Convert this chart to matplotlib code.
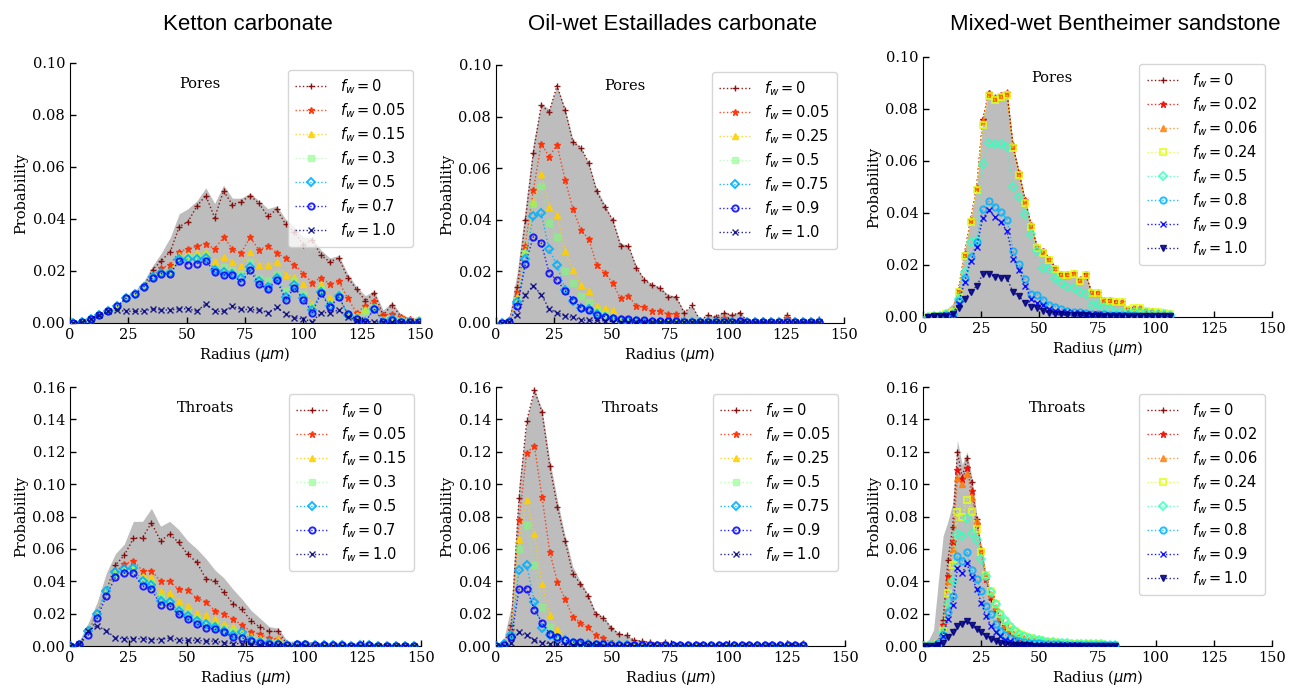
import matplotlib
matplotlib.use("Agg")
import matplotlib.pyplot as plt
from matplotlib.ticker import FormatStrFormatter, MultipleLocator

# ---------------- data ----------------
col_titles = ["Ketton carbonate", "Oil-wet Estaillades carbonate", "Mixed-wet Bentheimer sandstone"]
row_names = ["Pores", "Throats"]

fw_ketton = ["0", "0.05", "0.15", "0.3", "0.5", "0.7", "1.0"]
fw_estaillades = ["0", "0.05", "0.25", "0.5", "0.75", "0.9", "1.0"]
fw_bentheimer = ["0", "0.02", "0.06", "0.24", "0.5", "0.8", "0.9", "1.0"]

# Ketton pores
kp_r = [1.2, 5.0, 8.8, 12.6, 16.4, 20.2, 24.0, 27.8, 31.6, 35.4, 39.2, 43.0, 46.8, 50.6, 54.4, 58.2, 62.0, 65.8,
        69.6, 73.4, 77.2, 81.0, 84.8, 88.6, 92.4, 96.2, 100.0, 103.8, 107.6, 111.4, 115.2, 119.0, 122.8, 126.6,
        130.4, 134.2, 138.0, 141.8, 145.6, 149.4]
kp_env = [0.0005, 0.001, 0.002, 0.0035, 0.005, 0.007, 0.0105, 0.0125, 0.016, 0.022, 0.027, 0.033, 0.042, 0.044,
          0.047, 0.052, 0.046, 0.053, 0.048, 0.048, 0.050, 0.047, 0.044, 0.045, 0.040, 0.037, 0.033, 0.033, 0.028,
          0.025, 0.026, 0.019, 0.014, 0.0105, 0.0125, 0.005, 0.008, 0.0035, 0.002, 0.002]
kp_0 = [0.0, 0.0005, 0.0015, 0.003, 0.0045, 0.006, 0.0095, 0.011, 0.014, 0.0205, 0.024, 0.0275, 0.037, 0.039,
        0.045, 0.049, 0.0405, 0.0508, 0.0455, 0.0467, 0.049, 0.046, 0.041, 0.0437, 0.038, 0.035, 0.030, 0.032,
        0.026, 0.0235, 0.025, 0.0175, 0.013, 0.0085, 0.0115, 0.003, 0.007, 0.0025, 0.0015, 0.001]
kp_005 = [0.0, 0.0005, 0.0015, 0.003, 0.0045, 0.0062, 0.0095, 0.011, 0.014, 0.018, 0.021, 0.0225, 0.0275, 0.0285,
          0.0295, 0.0305, 0.0285, 0.033, 0.0285, 0.027, 0.033, 0.028, 0.0298, 0.027, 0.025, 0.0225, 0.019, 0.0155,
          0.0175, 0.015, 0.016, 0.0095, 0.004, 0.0065, 0.0085, 0.003, 0.0035, 0.0025, 0.0015, 0.001]
kp_015 = [0.0, 0.0005, 0.0015, 0.003, 0.0045, 0.0062, 0.0095, 0.011, 0.014, 0.018, 0.0195, 0.020, 0.026, 0.026,
          0.027, 0.0275, 0.024, 0.0255, 0.0235, 0.022, 0.0275, 0.0222, 0.0222, 0.0235, 0.0185, 0.0178, 0.015, 0.0073,
          0.015, 0.0095, 0.0105, 0.0035, 0.003, 0.0055, 0.006, 0.0015, 0.002, 0.0015, 0.001, 0.0015]
kp_03 = [0.0, 0.0005, 0.0015, 0.003, 0.0045, 0.0062, 0.0095, 0.011, 0.014, 0.0178, 0.0193, 0.0195, 0.025, 0.0255,
         0.0255, 0.026, 0.021, 0.0215, 0.0205, 0.019, 0.0235, 0.0175, 0.0165, 0.019, 0.0125, 0.016, 0.011, 0.006,
         0.013, 0.0075, 0.011, 0.003, 0.002, 0.0045, 0.006, 0.001, 0.0015, 0.001, 0.0005, 0.001]
kp_05 = [0.0, 0.0004, 0.0015, 0.003, 0.0045, 0.0065, 0.0095, 0.011, 0.014, 0.0176, 0.0192, 0.0192, 0.0245, 0.0245,
         0.0245, 0.025, 0.0205, 0.0195, 0.019, 0.0175, 0.0215, 0.016, 0.014, 0.0175, 0.010, 0.0145, 0.0095, 0.005,
         0.012, 0.0065, 0.0105, 0.003, 0.0015, 0.0005, 0.0055, 0.0005, 0.0015, 0.0005, 0.0003, 0.0005]
kp_07 = [0.0, 0.0003, 0.0015, 0.003, 0.0045, 0.0065, 0.0095, 0.011, 0.014, 0.0175, 0.019, 0.019, 0.024, 0.0225,
         0.0228, 0.024, 0.0195, 0.0185, 0.0185, 0.0158, 0.0202, 0.015, 0.013, 0.0165, 0.009, 0.0135, 0.009, 0.004,
         0.0115, 0.006, 0.010, 0.0035, 0.0015, 0.0005, 0.0055, 0.0005, 0.0012, 0.0005, 0.0003, 0.0003]
kp_10 = [0.0, 0.0003, 0.0015, 0.003, 0.0045, 0.005, 0.0045, 0.0045, 0.0045, 0.0055, 0.005, 0.005, 0.0055, 0.0055,
         0.0045, 0.0075, 0.0045, 0.0045, 0.0065, 0.0052, 0.0052, 0.005, 0.004, 0.006, 0.0035, 0.002, 0.0015, 0.0005,
         0.004, 0.004, 0.005, 0.0025, 0.001, 0.0005, 0.0005, 0.0003, 0.0003, 0.0002, 0.0002, 0.0002]

# Ketton throats
kt_r = [0.0, 3.9, 7.7, 11.6, 15.5, 19.4, 23.2, 27.1, 31.0, 34.8, 38.7, 42.6, 46.4, 50.3, 54.2, 58.1, 61.9, 65.8,
        69.7, 73.5, 77.4, 81.3, 85.1, 89.0, 92.9, 96.8, 100.6, 104.5, 108.4, 112.2, 116.1, 120.0, 123.8, 127.7,
        131.6, 135.5, 139.3, 143.2, 147.1]
kt_env = [0.0005, 0.003, 0.014, 0.027, 0.045, 0.057, 0.063, 0.077, 0.077, 0.085, 0.074, 0.077, 0.072, 0.065, 0.060,
          0.054, 0.047, 0.042, 0.035, 0.029, 0.022, 0.017, 0.012, 0.011, 0.003, 0.003, 0.0028, 0.0025, 0.002, 0.002,
          0.0018, 0.0015, 0.0015, 0.002, 0.0012, 0.001, 0.001, 0.001, 0.001]
kt_0 = [0.0, 0.0005, 0.009, 0.02, 0.034, 0.050, 0.056, 0.0665, 0.067, 0.076, 0.065, 0.069, 0.064, 0.0566, 0.0517,
        0.0414, 0.0404, 0.0332, 0.026, 0.0227, 0.0154, 0.0115, 0.009, 0.009, 0.0007, 0.002, 0.002, 0.0015, 0.0015,
        0.001, 0.001, 0.0008, 0.001, 0.0015, 0.0005, 0.0005, 0.0005, 0.0005, 0.0005]
kt_005 = [0.0, 0.0005, 0.009, 0.02, 0.034, 0.046, 0.0505, 0.0525, 0.0465, 0.0465, 0.040, 0.040, 0.035, 0.0346,
          0.0295, 0.0274, 0.0218, 0.0198, 0.0165, 0.013, 0.0089, 0.0072, 0.0047, 0.0041, 0.0005, 0.0015, 0.0015,
          0.001, 0.001, 0.0008, 0.0008, 0.0005, 0.0008, 0.0012, 0.0004, 0.0004, 0.0004, 0.0004, 0.0004]
kt_015 = [0.0, 0.0005, 0.009, 0.02, 0.034, 0.046, 0.047, 0.048, 0.043, 0.0425, 0.034, 0.033, 0.0275, 0.025, 0.0205,
          0.019, 0.0165, 0.0135, 0.012, 0.0085, 0.006, 0.005, 0.003, 0.0045, 0.0005, 0.0012, 0.0012, 0.001, 0.0008,
          0.0006, 0.0006, 0.0004, 0.0006, 0.001, 0.0003, 0.0003, 0.0003, 0.0003, 0.0003]
kt_03 = [0.0, 0.0005, 0.009, 0.02, 0.034, 0.045, 0.047, 0.048, 0.041, 0.039, 0.030, 0.028, 0.023, 0.021, 0.017,
         0.015, 0.013, 0.011, 0.009, 0.007, 0.004, 0.003, 0.002, 0.002, 0.0004, 0.001, 0.001, 0.0008, 0.0006, 0.0005,
         0.0005, 0.0003, 0.0005, 0.0008, 0.0003, 0.0003, 0.0003, 0.0003, 0.0003]
kt_05 = [0.0, 0.0008, 0.009, 0.020, 0.034, 0.046, 0.0475, 0.048, 0.040, 0.0375, 0.028, 0.027, 0.0215, 0.0185, 0.0155,
         0.0135, 0.012, 0.0095, 0.007, 0.0085, 0.004, 0.0025, 0.002, 0.0015, 0.0004, 0.0008, 0.0008, 0.0006, 0.0005,
         0.0004, 0.0004, 0.0003, 0.0004, 0.0006, 0.0002, 0.0002, 0.0002, 0.0002, 0.0002]
kt_07 = [0.0, 0.001, 0.0065, 0.017, 0.031, 0.0425, 0.045, 0.045, 0.037, 0.035, 0.0255, 0.025, 0.0195, 0.0165, 0.0135,
         0.011, 0.0105, 0.0085, 0.0055, 0.005, 0.003, 0.002, 0.0015, 0.0015, 0.0005, 0.001, 0.001, 0.0008, 0.0006,
         0.0004, 0.0004, 0.0003, 0.0004, 0.0008, 0.0002, 0.0002, 0.0002, 0.0002, 0.0002]
kt_10 = [0.0, 0.001, 0.0095, 0.0125, 0.0095, 0.005, 0.0045, 0.0045, 0.0045, 0.004, 0.004, 0.005, 0.0035, 0.0035,
         0.0035, 0.003, 0.003, 0.002, 0.0015, 0.0015, 0.001, 0.0008, 0.0005, 0.0005, 0.0003, 0.0003, 0.0003, 0.0003,
         0.0002, 0.0002, 0.0002, 0.0002, 0.0002, 0.0002, 0.0002, 0.0002, 0.0002, 0.0002, 0.0002]

# Estaillades pores
ep_r = [2.4, 5.8, 9.2, 12.7, 16.1, 19.5, 22.9, 26.3, 29.8, 33.2, 36.6, 40.0, 43.4, 46.9, 50.3, 53.7, 57.1, 60.5,
        64.0, 67.4, 70.8, 74.2, 77.6, 81.1, 84.5, 87.9, 91.3, 94.7, 98.2, 101.6, 105.0, 108.4, 111.8, 115.3, 118.7,
        122.1, 125.5, 128.9, 132.4, 135.8, 139.2]
ep_env = [0.0005, 0.003, 0.02, 0.045, 0.07, 0.085, 0.083, 0.092, 0.083, 0.071, 0.068, 0.062, 0.052, 0.046, 0.040,
          0.031, 0.030, 0.022, 0.017, 0.015, 0.014, 0.011, 0.0105, 0.0045, 0.0068, 0.0015, 0.0032, 0.0028, 0.0042,
          0.0034, 0.0044, 0.0012, 0.0008, 0.0012, 0.0008, 0.0008, 0.0032, 0.0008, 0.0006, 0.0006, 0.0016]
ep_0 = [0.0, 0.0005, 0.014, 0.040, 0.066, 0.0845, 0.0817, 0.092, 0.0825, 0.070, 0.068, 0.062, 0.051, 0.045, 0.040,
        0.030, 0.030, 0.0215, 0.0167, 0.0147, 0.0134, 0.0102, 0.0102, 0.004, 0.0068, 0.001, 0.003, 0.0025, 0.004,
        0.003, 0.004, 0.0005, 0.0003, 0.001, 0.0003, 0.0005, 0.003, 0.0003, 0.0002, 0.0002, 0.0015]
ep_005 = [0.0, 0.0005, 0.012, 0.030, 0.0515, 0.0695, 0.0645, 0.069, 0.0555, 0.044, 0.036, 0.0325, 0.0225, 0.0195,
          0.0155, 0.0095, 0.0105, 0.0065, 0.0062, 0.0045, 0.0045, 0.0035, 0.0035, 0.001, 0.0005, 0.0005, 0.0008,
          0.0008, 0.002, 0.0008, 0.001, 0.0003, 0.0003, 0.0003, 0.0003, 0.0003, 0.002, 0.0003, 0.0003, 0.0003, 0.0005]
ep_025 = [0.0, 0.0005, 0.010, 0.028, 0.047, 0.0576, 0.045, 0.0419, 0.028, 0.0204, 0.0148, 0.0125, 0.0065, 0.006,
          0.005, 0.002, 0.0015, 0.0005, 0.0005, 0.0005, 0.0005, 0.0004, 0.0004, 0.0003, 0.0003, 0.0003, 0.0003,
          0.0003, 0.0005, 0.0003, 0.0004, 0.0002, 0.0002, 0.0002, 0.0002, 0.0002, 0.0004, 0.0002, 0.0002, 0.0002, 0.0002]
ep_05 = [0.0, 0.0005, 0.009, 0.027, 0.046, 0.053, 0.0386, 0.0335, 0.020, 0.0155, 0.0105, 0.008, 0.005, 0.0035,
         0.002, 0.001, 0.001, 0.0005, 0.0005, 0.0004, 0.0004, 0.0003, 0.0003, 0.0003, 0.0003, 0.0003, 0.0003, 0.0003,
         0.0004, 0.0003, 0.0003, 0.0002, 0.0002, 0.0002, 0.0002, 0.0002, 0.0003, 0.0002, 0.0002, 0.0002, 0.0002]
ep_075 = [0.0, 0.0005, 0.008, 0.025, 0.0415, 0.0425, 0.0285, 0.0225, 0.0128, 0.0085, 0.006, 0.0055, 0.0035, 0.0025,
          0.0015, 0.001, 0.0008, 0.0006, 0.0005, 0.0004, 0.0004, 0.0003, 0.0003, 0.0003, 0.0003, 0.0003, 0.0003,
          0.0003, 0.0003, 0.0003, 0.0003, 0.0002, 0.0002, 0.0002, 0.0002, 0.0002, 0.0002, 0.0002, 0.0002, 0.0002, 0.0002]
ep_09 = [0.0, 0.0005, 0.0065, 0.023, 0.0335, 0.031, 0.0195, 0.0165, 0.0125, 0.009, 0.006, 0.005, 0.003, 0.0025,
         0.002, 0.0015, 0.0015, 0.001, 0.001, 0.0008, 0.0008, 0.0006, 0.0006, 0.0005, 0.0005, 0.0004, 0.0004, 0.0004,
         0.0005, 0.0004, 0.0008, 0.0003, 0.0003, 0.0003, 0.0003, 0.0003, 0.0004, 0.0003, 0.0003, 0.0003, 0.0003]
ep_10 = [0.0, 0.0003, 0.003, 0.011, 0.0145, 0.011, 0.0055, 0.004, 0.0027, 0.0022, 0.0012, 0.001, 0.001, 0.0008,
         0.0005, 0.0004, 0.0004, 0.0003, 0.0003, 0.0003, 0.0003, 0.0002, 0.0002, 0.0002, 0.0002, 0.0002, 0.0002,
         0.0002, 0.0002, 0.0002, 0.0002, 0.0002, 0.0002, 0.0002, 0.0002, 0.0002, 0.0002, 0.0002, 0.0002, 0.0002, 0.0002]

# Estaillades throats
et_r = [0.0, 3.3, 6.6, 9.9, 13.2, 16.5, 19.8, 23.1, 26.4, 29.7, 33.0, 36.3, 39.6, 42.9, 46.2, 49.5, 52.8, 56.1, 59.4,
        62.7, 66.0, 69.3, 72.6, 75.9, 79.2, 82.5, 85.8, 89.1, 92.4, 95.7, 99.0, 102.3, 105.6, 108.9, 112.2, 115.5,
        118.8, 122.1, 125.4, 128.7, 132.0]
et_env = [0.0005, 0.004, 0.025, 0.100, 0.140, 0.159, 0.146, 0.115, 0.090, 0.068, 0.049, 0.040, 0.032, 0.021, 0.018,
          0.012, 0.008, 0.0068, 0.004, 0.0035, 0.0025, 0.002, 0.0028, 0.0015, 0.0013, 0.0012, 0.0012, 0.0012, 0.0012,
          0.0012, 0.0012, 0.0012, 0.0012, 0.0012, 0.0012, 0.0012, 0.0012, 0.0012, 0.0012, 0.0012, 0.0025]
et_0 = [0.0, 0.001, 0.013, 0.0915, 0.139, 0.158, 0.1445, 0.111, 0.086, 0.065, 0.0445, 0.0385, 0.031, 0.0195, 0.0175,
        0.011, 0.0075, 0.0065, 0.0035, 0.003, 0.0022, 0.0015, 0.0025, 0.001, 0.0008, 0.0005, 0.0005, 0.0005, 0.0005,
        0.0005, 0.0005, 0.0005, 0.0005, 0.0005, 0.0005, 0.0005, 0.0005, 0.0005, 0.0005, 0.0005, 0.002]
et_005 = [0.0, 0.001, 0.010, 0.078, 0.1195, 0.1235, 0.092, 0.058, 0.0395, 0.029, 0.018, 0.0145, 0.0115, 0.0065,
          0.005, 0.002, 0.0015, 0.001, 0.001, 0.0008, 0.0008, 0.0006, 0.0006, 0.0005, 0.0005, 0.0004, 0.0004, 0.0004,
          0.0004, 0.0004, 0.0004, 0.0004, 0.0004, 0.0004, 0.0004, 0.0004, 0.0004, 0.0004, 0.0004, 0.0004, 0.0008]
et_025 = [0.0, 0.001, 0.008, 0.066, 0.090, 0.069, 0.038, 0.019, 0.0105, 0.005, 0.003, 0.002, 0.001, 0.001, 0.0008,
          0.0006, 0.0005, 0.0005, 0.0004, 0.0004, 0.0004, 0.0003, 0.0003, 0.0003, 0.0003, 0.0003, 0.0003, 0.0003,
          0.0003, 0.0003, 0.0003, 0.0003, 0.0003, 0.0003, 0.0003, 0.0003, 0.0003, 0.0003, 0.0003, 0.0003, 0.0003]
et_05 = [0.0, 0.001, 0.007, 0.060, 0.075, 0.050, 0.024, 0.012, 0.006, 0.004, 0.0025, 0.001, 0.001, 0.0008, 0.0006,
         0.0005, 0.0004, 0.0004, 0.0003, 0.0003, 0.0003, 0.0003, 0.0003, 0.0003, 0.0003, 0.0003, 0.0003, 0.0003,
         0.0003, 0.0003, 0.0003, 0.0003, 0.0003, 0.0003, 0.0003, 0.0003, 0.0003, 0.0003, 0.0003, 0.0003, 0.0003]
et_075 = [0.0, 0.001, 0.007, 0.047, 0.050, 0.027, 0.011, 0.0065, 0.005, 0.0035, 0.002, 0.001, 0.001, 0.0008, 0.0006,
          0.0005, 0.0004, 0.0004, 0.0003, 0.0003, 0.0003, 0.0003, 0.0003, 0.0003, 0.0003, 0.0003, 0.0003, 0.0003,
          0.0003, 0.0003, 0.0003, 0.0003, 0.0003, 0.0003, 0.0003, 0.0003, 0.0003, 0.0003, 0.0003, 0.0003, 0.0003]
et_09 = [0.0, 0.0005, 0.0055, 0.035, 0.0355, 0.0225, 0.0145, 0.0075, 0.0055, 0.0035, 0.0025, 0.0025, 0.0015, 0.001,
         0.001, 0.0008, 0.0008, 0.0006, 0.0005, 0.0005, 0.0004, 0.0004, 0.0004, 0.0004, 0.0004, 0.0004, 0.0004,
         0.0004, 0.0004, 0.0004, 0.0004, 0.0004, 0.0004, 0.0004, 0.0004, 0.0004, 0.0004, 0.0004, 0.0004, 0.0004, 0.0004]
et_10 = [0.0, 0.0003, 0.002, 0.0085, 0.0065, 0.0035, 0.002, 0.0015, 0.001, 0.0008, 0.0006, 0.0005, 0.0004, 0.0004,
         0.0003, 0.0003, 0.0003, 0.0003, 0.0003, 0.0003, 0.0002, 0.0002, 0.0002, 0.0002, 0.0002, 0.0002, 0.0002,
         0.0002, 0.0002, 0.0002, 0.0002, 0.0002, 0.0002, 0.0002, 0.0002, 0.0002, 0.0002, 0.0002, 0.0002, 0.0002, 0.0002]

# Bentheimer pores
bp_r = [2.3, 4.9, 7.5, 10.1, 12.7, 15.3, 17.9, 20.5, 23.1, 25.7, 28.3, 30.9, 33.5, 36.1, 38.7, 41.3, 43.9, 46.5,
        49.1, 51.7, 54.3, 56.9, 59.5, 62.1, 64.7, 67.3, 69.9, 72.5, 75.1, 77.7, 80.3, 82.9, 85.5, 88.1, 90.7, 93.3,
        95.9, 98.5, 101.1, 103.7, 106.3]
bp_env = [0.0005, 0.001, 0.002, 0.003, 0.005, 0.012, 0.025, 0.038, 0.050, 0.076, 0.0865, 0.085, 0.086, 0.087, 0.066,
          0.0555, 0.045, 0.0355, 0.027, 0.0255, 0.0225, 0.019, 0.0165, 0.0165, 0.017, 0.0145, 0.0165, 0.0095, 0.0095,
          0.0065, 0.0065, 0.006, 0.006, 0.003, 0.0035, 0.0035, 0.0025, 0.0022, 0.002, 0.0015, 0.001]
bp_0 = [0.0, 0.0002, 0.0005, 0.001, 0.002, 0.0105, 0.0245, 0.0375, 0.050, 0.076, 0.0862, 0.0845, 0.0855, 0.0865,
        0.066, 0.0555, 0.045, 0.0355, 0.027, 0.0255, 0.0225, 0.019, 0.0165, 0.0165, 0.017, 0.0145, 0.0165, 0.0095,
        0.0095, 0.0065, 0.0065, 0.006, 0.006, 0.003, 0.0035, 0.0035, 0.0025, 0.0022, 0.002, 0.0015, 0.001]
bp_002 = [0.0, 0.0002, 0.0005, 0.001, 0.002, 0.0105, 0.0244, 0.0374, 0.0498, 0.0758, 0.0861, 0.0843, 0.0854, 0.0863,
          0.0658, 0.0554, 0.0449, 0.0354, 0.0269, 0.0254, 0.0224, 0.0189, 0.0164, 0.0164, 0.0169, 0.0144, 0.0164,
          0.0094, 0.0094, 0.0064, 0.0064, 0.0059, 0.0059, 0.003, 0.0035, 0.0035, 0.0025, 0.0022, 0.002, 0.0015, 0.001]
bp_006 = [0.0, 0.0002, 0.0005, 0.001, 0.002, 0.0103, 0.0242, 0.0372, 0.0496, 0.0755, 0.0858, 0.0841, 0.0852, 0.0861,
          0.0656, 0.0552, 0.0447, 0.0352, 0.0268, 0.0252, 0.0222, 0.0188, 0.0163, 0.0163, 0.0168, 0.0143, 0.0163,
          0.0093, 0.0093, 0.0063, 0.0063, 0.0058, 0.0058, 0.0029, 0.0034, 0.0034, 0.0024, 0.0021, 0.0019, 0.0014, 0.001]
bp_024 = [0.0, 0.0002, 0.0005, 0.001, 0.002, 0.0098, 0.0235, 0.0365, 0.049, 0.074, 0.085, 0.0835, 0.0845, 0.0855,
          0.065, 0.0545, 0.044, 0.0348, 0.0265, 0.0248, 0.022, 0.0185, 0.016, 0.016, 0.0165, 0.014, 0.016, 0.0092,
          0.0092, 0.0062, 0.0062, 0.0057, 0.0057, 0.0028, 0.0033, 0.0033, 0.0024, 0.0021, 0.0019, 0.0014, 0.001]
bp_05 = [0.0, 0.0002, 0.0005, 0.001, 0.001, 0.007, 0.0175, 0.029, 0.0295, 0.059, 0.067, 0.0665, 0.0665, 0.0655, 0.050,
         0.046, 0.0395, 0.032, 0.0255, 0.019, 0.0185, 0.015, 0.013, 0.0115, 0.011, 0.0095, 0.009, 0.0045, 0.005,
         0.004, 0.003, 0.0015, 0.002, 0.0015, 0.002, 0.002, 0.0015, 0.001, 0.0012, 0.001, 0.0008]
bp_08 = [0.0, 0.0002, 0.0005, 0.0008, 0.001, 0.006, 0.015, 0.023, 0.029, 0.0415, 0.0445, 0.0425, 0.0405, 0.0375,
         0.0255, 0.0205, 0.0145, 0.009, 0.0085, 0.0065, 0.0045, 0.004, 0.003, 0.0025, 0.002, 0.002, 0.0015, 0.0012,
         0.001, 0.001, 0.0008, 0.0008, 0.0007, 0.0006, 0.0006, 0.0005, 0.0005, 0.0005, 0.0004, 0.0004, 0.0004]
bp_09 = [0.0, 0.0002, 0.0005, 0.0008, 0.001, 0.005, 0.0135, 0.0215, 0.027, 0.038, 0.041, 0.0385, 0.0365, 0.033,
         0.0225, 0.018, 0.012, 0.007, 0.0055, 0.0045, 0.003, 0.0025, 0.002, 0.0018, 0.0015, 0.0015, 0.0012, 0.001,
         0.001, 0.0008, 0.0007, 0.0007, 0.0006, 0.0005, 0.0005, 0.0004, 0.0004, 0.0004, 0.0003, 0.0003, 0.0003]
bp_10 = [0.0, 0.0002, 0.0003, 0.0005, 0.001, 0.0035, 0.007, 0.0095, 0.012, 0.0165, 0.0165, 0.0155, 0.015, 0.015,
         0.0095, 0.008, 0.0055, 0.004, 0.0035, 0.0025, 0.0015, 0.0012, 0.001, 0.0009, 0.0008, 0.0007, 0.0006, 0.0005,
         0.0005, 0.0004, 0.0004, 0.0003, 0.0003, 0.0003, 0.0003, 0.0003, 0.0002, 0.0002, 0.0002, 0.0002, 0.0002]

# Bentheimer throats
bt_r = [0.45, 2.5, 4.55, 6.6, 8.65, 10.7, 12.75, 14.8, 16.85, 18.9, 20.95, 23.0, 25.05, 27.1, 29.15, 31.2, 33.25,
        35.3, 37.35, 39.4, 41.45, 43.5, 45.55, 47.6, 49.65, 51.7, 53.75, 55.8, 57.85, 59.9, 61.95, 64.0, 66.05, 68.1,
        70.15, 72.2, 74.25, 76.3, 78.35, 80.4, 82.45]
bt_env = [0.002, 0.004, 0.010, 0.040, 0.068, 0.077, 0.088, 0.127, 0.112, 0.120, 0.105, 0.082, 0.062, 0.045, 0.031,
          0.023, 0.017, 0.012, 0.009, 0.0065, 0.005, 0.004, 0.0035, 0.003, 0.0025, 0.002, 0.0018, 0.0016, 0.0015,
          0.0013, 0.0012, 0.0011, 0.001, 0.001, 0.001, 0.001, 0.001, 0.0009, 0.0009, 0.0008, 0.0008]
bt_0 = [0.0, 0.0, 0.0003, 0.002, 0.016, 0.053, 0.0735, 0.120, 0.104, 0.116, 0.1015, 0.0785, 0.0595, 0.042, 0.029,
        0.0215, 0.016, 0.0115, 0.0085, 0.006, 0.0045, 0.0035, 0.003, 0.0025, 0.002, 0.0018, 0.0015, 0.0013, 0.0012,
        0.001, 0.001, 0.0008, 0.0008, 0.0007, 0.0007, 0.0008, 0.0006, 0.0005, 0.0005, 0.0004, 0.0004]
bt_002 = [0.0, 0.0, 0.0003, 0.0015, 0.013, 0.043, 0.064, 0.109, 0.103, 0.110, 0.096, 0.0755, 0.058, 0.0415, 0.0305,
          0.0225, 0.0165, 0.0125, 0.0095, 0.007, 0.0055, 0.0045, 0.0035, 0.003, 0.0025, 0.002, 0.0018, 0.0015, 0.0013,
          0.0012, 0.0011, 0.001, 0.0009, 0.0008, 0.0008, 0.0008, 0.0007, 0.0006, 0.0006, 0.0005, 0.0005]
bt_006 = [0.0, 0.0, 0.0003, 0.0012, 0.011, 0.040, 0.060, 0.104, 0.100, 0.106, 0.092, 0.077, 0.060, 0.043, 0.032,
          0.024, 0.018, 0.013, 0.0105, 0.008, 0.006, 0.005, 0.004, 0.0035, 0.003, 0.0025, 0.0022, 0.002, 0.0018,
          0.0016, 0.0014, 0.0013, 0.0012, 0.0011, 0.001, 0.001, 0.0009, 0.0008, 0.0008, 0.0007, 0.0007]
bt_024 = [0.0, 0.0, 0.0003, 0.001, 0.009, 0.033, 0.050, 0.083, 0.080, 0.0905, 0.083, 0.0725, 0.058, 0.044, 0.034,
          0.026, 0.020, 0.0155, 0.012, 0.009, 0.0075, 0.006, 0.005, 0.004, 0.0035, 0.003, 0.0026, 0.0023, 0.002,
          0.0018, 0.0016, 0.0015, 0.0014, 0.0013, 0.0012, 0.0011, 0.001, 0.001, 0.0009, 0.0009, 0.0008]
bt_05 = [0.0, 0.0, 0.0003, 0.001, 0.008, 0.026, 0.040, 0.069, 0.068, 0.079, 0.070, 0.0655, 0.054, 0.043, 0.0335,
         0.026, 0.020, 0.016, 0.0125, 0.0095, 0.0075, 0.006, 0.005, 0.0042, 0.0036, 0.003, 0.0027, 0.0024, 0.0021,
         0.0019, 0.0017, 0.0015, 0.0014, 0.0013, 0.0012, 0.0011, 0.001, 0.001, 0.0009, 0.0009, 0.0008]
bt_08 = [0.0, 0.0, 0.0003, 0.002, 0.007, 0.021, 0.031, 0.0555, 0.0525, 0.058, 0.047, 0.0415, 0.034, 0.025, 0.0195,
         0.0135, 0.0095, 0.007, 0.005, 0.0038, 0.003, 0.0025, 0.002, 0.0018, 0.0016, 0.0014, 0.0012, 0.0011, 0.001,
         0.0009, 0.0008, 0.0008, 0.0007, 0.0007, 0.0006, 0.0006, 0.0006, 0.0005, 0.0005, 0.0005, 0.0005]
bt_09 = [0.0, 0.0, 0.0003, 0.0015, 0.006, 0.0165, 0.0255, 0.048, 0.045, 0.051, 0.0425, 0.0355, 0.0265, 0.0185,
         0.0125, 0.0085, 0.006, 0.004, 0.003, 0.002, 0.0015, 0.0012, 0.001, 0.0009, 0.0008, 0.0007, 0.0006, 0.0006,
         0.0005, 0.0005, 0.0004, 0.0004, 0.0004, 0.0003, 0.0003, 0.0003, 0.0003, 0.0003, 0.0003, 0.0003, 0.0003]
bt_10 = [0.0, 0.0, 0.0002, 0.0005, 0.002, 0.0055, 0.0085, 0.0125, 0.0135, 0.0155, 0.013, 0.0105, 0.0085, 0.006,
         0.0045, 0.003, 0.002, 0.0012, 0.0008, 0.0006, 0.0005, 0.0004, 0.0004, 0.0003, 0.0003, 0.0003, 0.0003,
         0.0002, 0.0002, 0.0002, 0.0002, 0.0002, 0.0002, 0.0002, 0.0002, 0.0002, 0.0002, 0.0002, 0.0002, 0.0002, 0.0002]

# ---------------- styles ----------------
plt.rcParams["font.family"] = ["DejaVu Serif"]
plt.rcParams["mathtext.fontset"] = "dejavusans"

jet = matplotlib.colormaps["jet"]
# (marker, colour position in jet, hollow, alpha)
style7 = [("+", 1.00, False, 0.9), ("*", 0.86, False, 0.85), ("^", 0.69, False, 0.85), ("s", 0.50, False, 0.5),
          ("D", 0.30, True, 0.9), ("o", 0.12, True, 0.85), ("x", 0.00, False, 0.85)]
style8 = [("+", 1.00, False, 0.9), ("*", 0.90, False, 0.85), ("^", 0.78, False, 0.75), ("s", 0.62, True, 0.8),
          ("D", 0.42, True, 0.8), ("o", 0.30, True, 0.85), ("x", 0.12, False, 0.9), ("v", 0.00, False, 0.85)]

panels = [
    # (row, col, x, envelope, series list, fw labels, styles, ylim)
    (0, 0, kp_r, kp_env, [kp_0, kp_005, kp_015, kp_03, kp_05, kp_07, kp_10], fw_ketton, style7, 0.10),
    (0, 1, ep_r, ep_env, [ep_0, ep_005, ep_025, ep_05, ep_075, ep_09, ep_10], fw_estaillades, style7, 0.10),
    (0, 2, bp_r, bp_env, [bp_0, bp_002, bp_006, bp_024, bp_05, bp_08, bp_09, bp_10], fw_bentheimer, style8, 0.10),
    (1, 0, kt_r, kt_env, [kt_0, kt_005, kt_015, kt_03, kt_05, kt_07, kt_10], fw_ketton, style7, 0.16),
    (1, 1, et_r, et_env, [et_0, et_005, et_025, et_05, et_075, et_09, et_10], fw_estaillades, style7, 0.16),
    (1, 2, bt_r, bt_env, [bt_0, bt_002, bt_006, bt_024, bt_05, bt_08, bt_09, bt_10], fw_bentheimer, style8, 0.16),
]

W, H = 1299, 697
# axes boxes in pixels: left, top, width, height
boxes = {
    (0, 0): (70, 63, 350, 260), (0, 1): (496, 65, 348, 258), (0, 2): (923, 57, 349, 260),
    (1, 0): (70, 387, 351, 259), (1, 1): (496, 387, 349, 259), (1, 2): (923, 387, 349, 259),
}

fig = plt.figure(figsize=(W / 100, H / 100), dpi=100)

for row, col, xr, env, series, fws, styles, ytop in panels:
    l, t, w, h = boxes[(row, col)]
    ax = fig.add_axes([l / W, 1 - (t + h) / H, w / W, h / H])
    ax.fill_between(xr, env, 0, color="#bdbdbd", lw=0, zorder=1)
    for vals, fw, (mk, cpos, hollow, al) in zip(series, fws, styles):
        c = jet(cpos)
        kw = dict(marker=mk, ls=":", lw=1.0, color=c, ms=4.5 if mk not in ("+", "x") else 5,
                  alpha=al, label=r"$f_w = %s$" % fw, zorder=3)
        if hollow:
            kw.update(mfc="none", mec=c, mew=1.4)
        else:
            kw.update(mfc=c, mec=c, mew=1.0)
        ax.plot(xr, vals, **kw)
    ax.set_xlim(0, 150)
    ax.set_ylim(0, ytop)
    ax.xaxis.set_major_locator(MultipleLocator(25))
    ax.yaxis.set_major_locator(MultipleLocator(0.02))
    ax.yaxis.set_major_formatter(FormatStrFormatter("%.2f"))
    ax.tick_params(direction="in", labelsize=10.5, length=4, width=1)
    for s in ("top", "right"):
        ax.spines[s].set_visible(False)
    ax.set_xlabel(r"Radius ($\mu m$)", fontsize=10.5, labelpad=2)
    ax.set_ylabel("Probability", fontsize=10.5, labelpad=3)
    ax.text(0.37 if row == 0 else 0.385, 0.92, row_names[row], transform=ax.transAxes,
            ha="center", va="center", fontsize=10.5)
    ax.legend(loc="upper right", prop={"family": "DejaVu Sans", "size": 10.5}, labelspacing=0.36,
              handlelength=2.2, borderpad=0.5, handletextpad=0.9)

title_x = [248, 673, 1115]
for tx, title in zip(title_x, col_titles):
    fig.text(tx / W, 1 - 24 / H, title, ha="center", va="center", fontsize=16,
             family=["Liberation Sans Narrow", "Liberation Sans", "DejaVu Sans"])

fig.savefig("out.png", dpi=100)
